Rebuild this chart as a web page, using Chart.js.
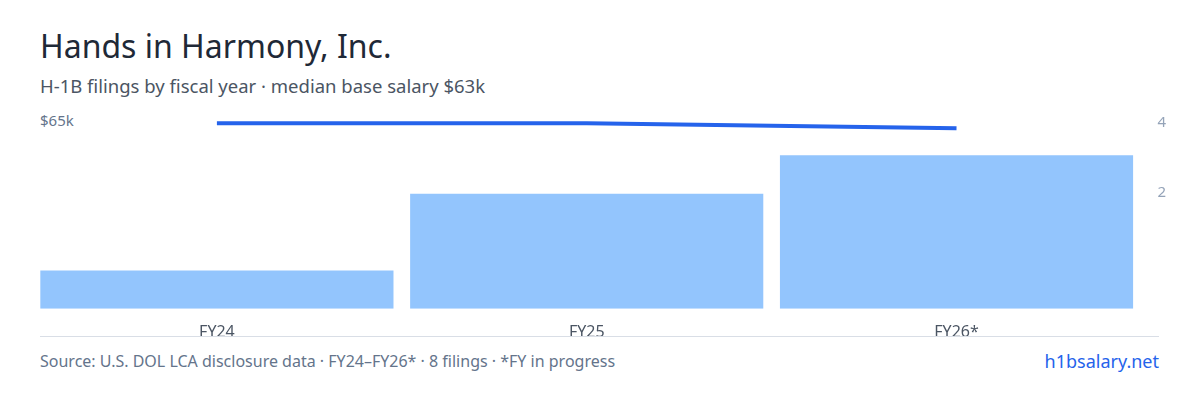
<!DOCTYPE html>
<html><head><meta charset="utf-8">
<script src="https://cdn.jsdelivr.net/npm/chart.js@4"></script>
<style>
body{margin:0;width:1200px;height:400px;background:#fff;font-family:"Noto Sans",sans-serif;position:relative;overflow:hidden}
#t{position:absolute;left:40px;top:24px;font-size:32px;color:#1f2937}
#s{position:absolute;left:40px;top:73px;font-size:18.5px;color:#4b5563}
#k{position:absolute;left:40px;top:110px;font-size:15px;color:#64748b}
#f{position:absolute;left:40px;top:350px;font-size:16px;color:#64748b}
#u{position:absolute;right:41px;top:349px;font-size:18px;color:#2563eb}
#w{position:absolute;left:32px;top:100px;width:1142px;height:248px}
#line{position:absolute;left:40px;top:336px;width:1119px;height:1px;background:#d9dee6}
</style></head><body>
<div id="t">Hands in Harmony, Inc.</div>
<div id="s">H-1B filings by fiscal year · median base salary $63k</div>
<div id="k">$65k</div>
<div id="w"><canvas id="c"></canvas></div>
<div id="line"></div>
<div id="f">Source: U.S. DOL LCA disclosure data · FY24–FY26* · 8 filings · *FY in progress</div>
<div id="u">h1bsalary.net</div>
<script>
const categories=["FY24","FY25","FY26*"];
const filings=[1,3,4];
const salaryK=[65,65,64.6];
const rightTicks=[2,4];
new Chart(document.getElementById('c'),{
 data:{labels:categories,datasets:[
  {type:'line',data:salaryK,yAxisID:'ys',borderColor:'#2563eb',borderWidth:4,pointRadius:0,tension:0},
  {type:'bar',data:filings,yAxisID:'y',backgroundColor:'#93c5fd',barPercentage:0.955,categoryPercentage:1}
 ]},
 options:{responsive:true,maintainAspectRatio:false,animation:false,
  layout:{padding:{top:4,left:0,right:0}},
  plugins:{legend:{display:false},tooltip:{enabled:false}},
  scales:{
   x:{grid:{display:false},border:{display:false},ticks:{color:'#4b5563',font:{family:'Noto Sans',size:16},padding:6}},
   y:{display:false,min:0,max:5},
   ys:{display:false,min:50,max:65.5},
   y1:{position:'right',min:-1.32,max:4.17,grid:{display:false},border:{display:false},
     afterBuildTicks:a=>{a.ticks=rightTicks.map(v=>({value:v}));},
     ticks:{color:'#94a3b8',font:{family:'Noto Sans',size:15},padding:8}}
  }}
});
</script></body></html>
